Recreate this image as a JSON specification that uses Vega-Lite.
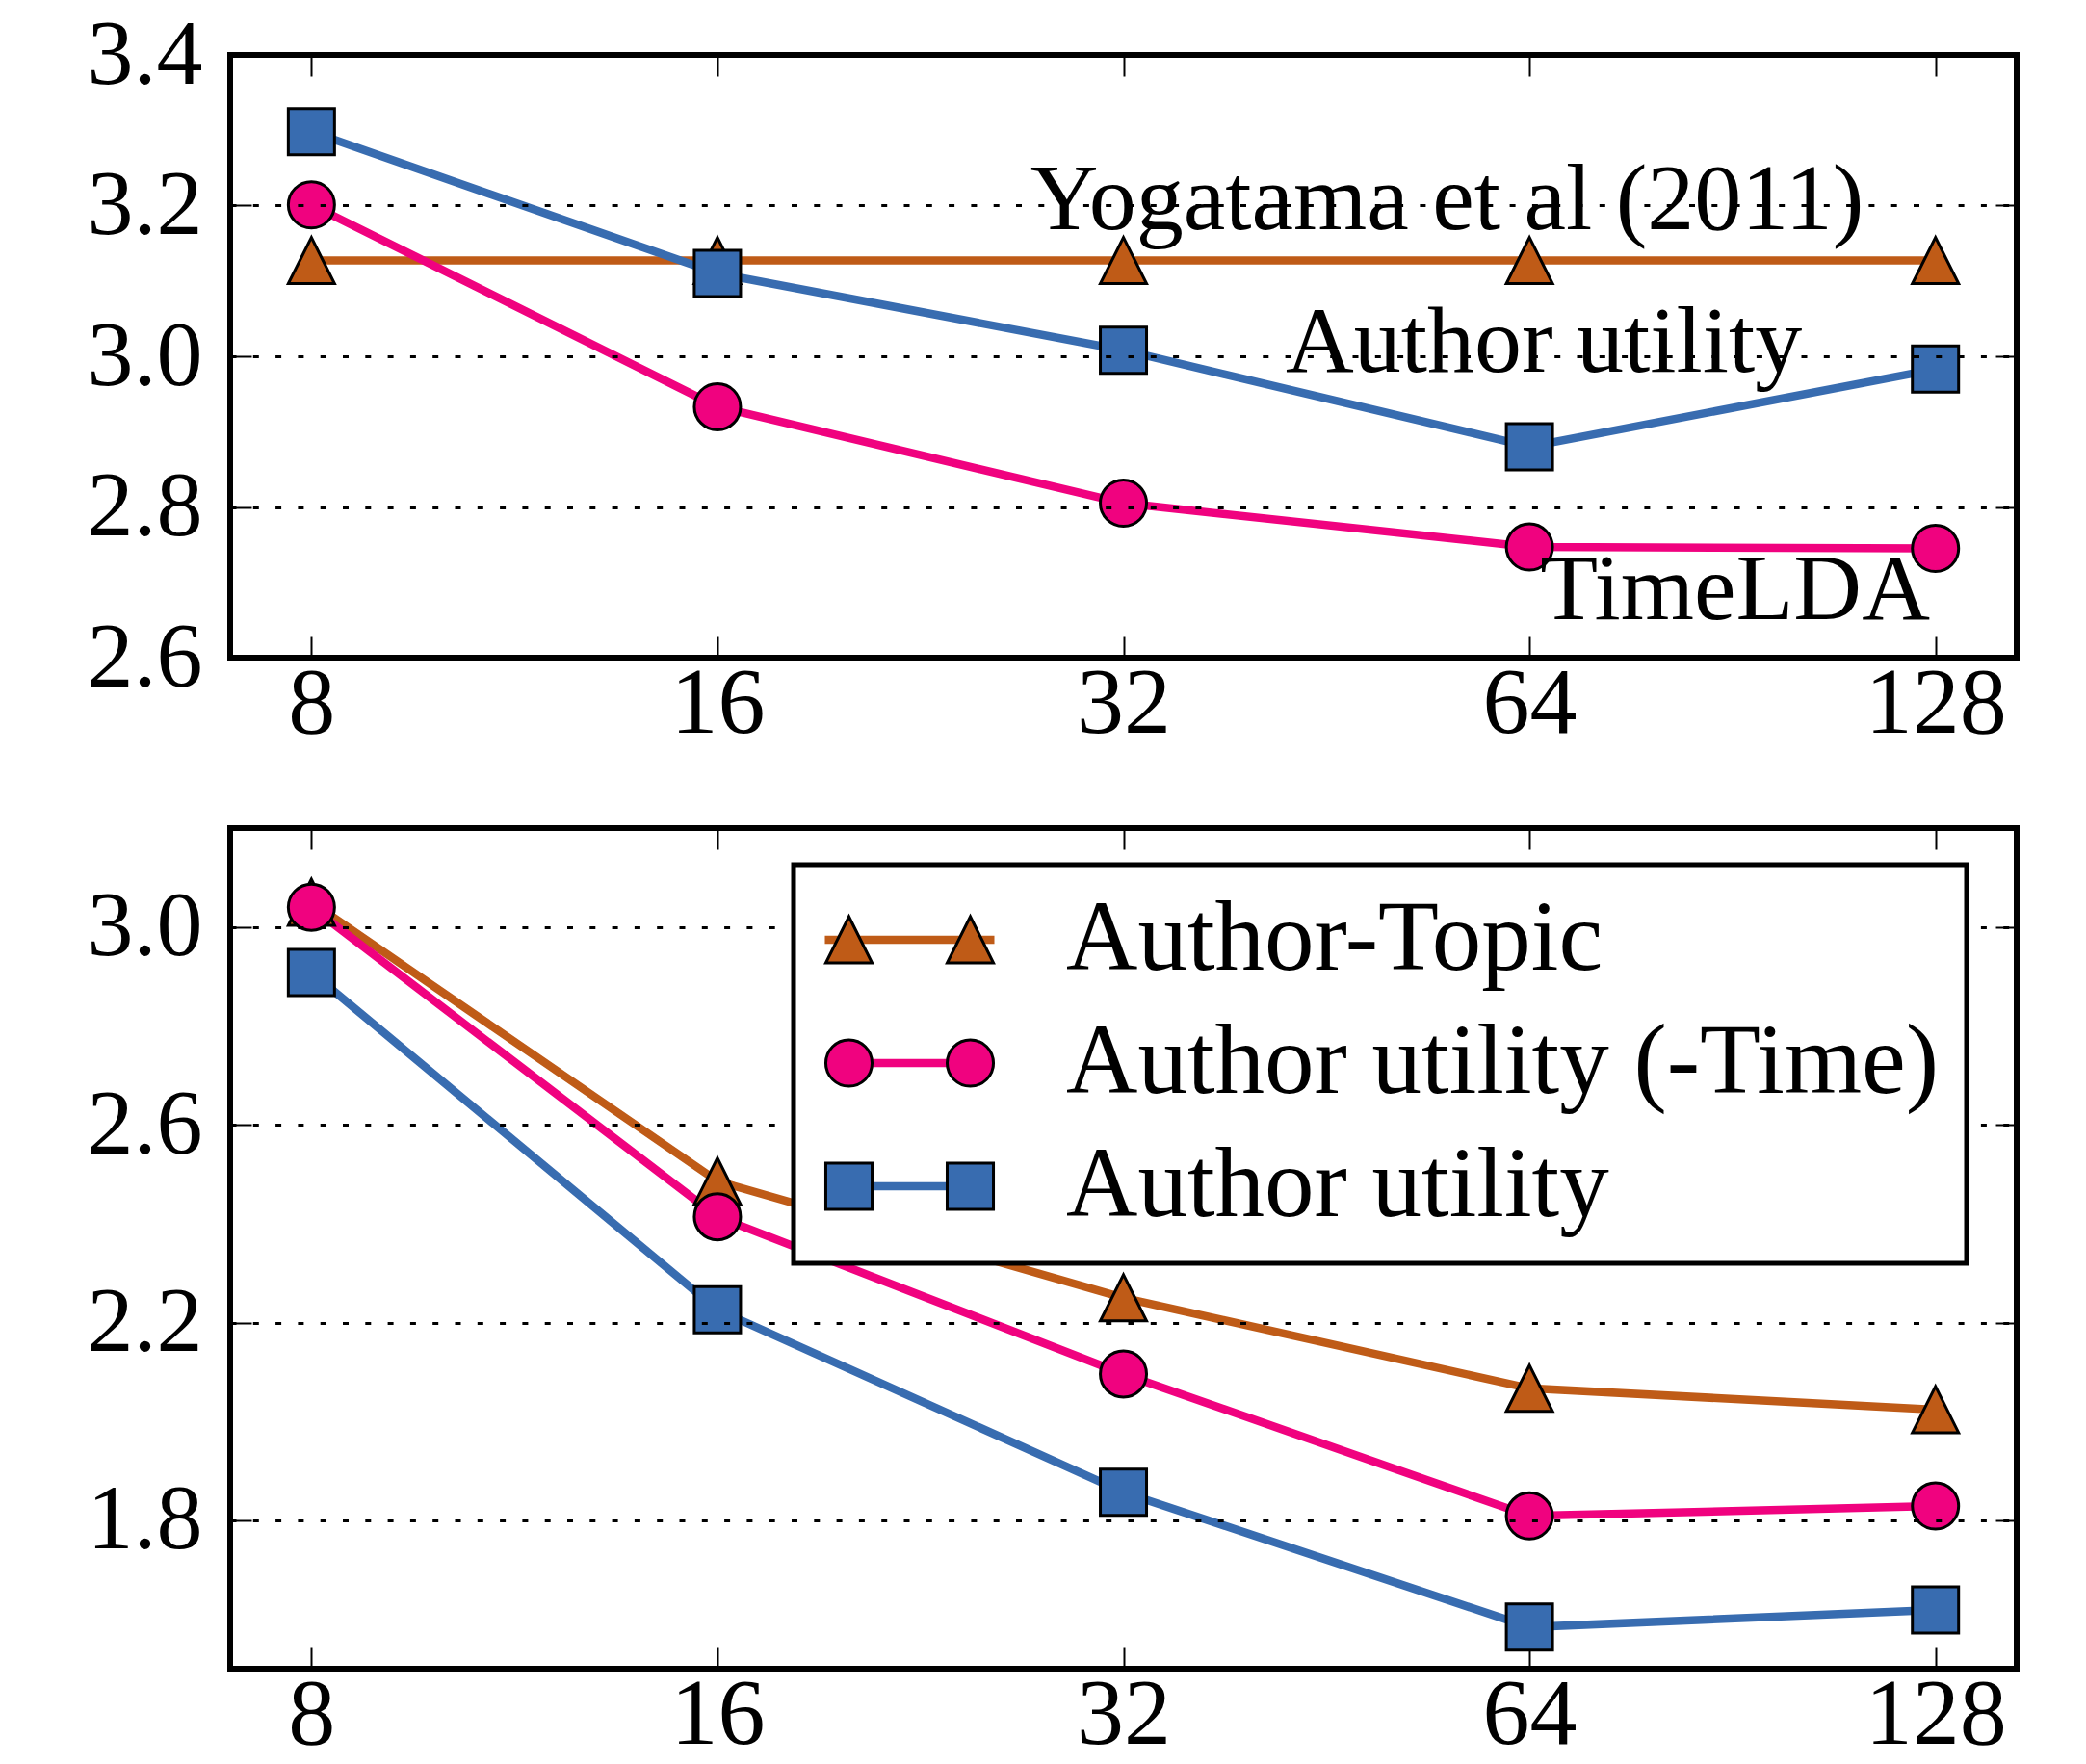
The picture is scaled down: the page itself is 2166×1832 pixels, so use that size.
{
  "$schema": "https://vega.github.io/schema/vega-lite/v6.json",
  "autosize": {"type": "pad"},
  "padding": {"left": 87, "top": 6, "right": 40, "bottom": 2},
  "background": "white",
  "bounds": "flush",
  "spacing": 177,
  "config": {
    "view": {"stroke": "black", "strokeWidth": 6},
    "font": "Liberation Serif",
    "axis": {
      "domain": false,
      "labelFont": "Liberation Serif",
      "labelFontSize": 96,
      "labelColor": "black",
      "tickColor": "black",
      "tickWidth": 2,
      "tickSize": -22,
      "grid": false,
      "labelFlush": false,
      "labelOverlap": false
    }
  },
  "datasets": {
    "top": [
      {"k": 8, "value": 3.127, "series": "Yogatama et al (2011)"},
      {"k": 16, "value": 3.127, "series": "Yogatama et al (2011)"},
      {"k": 32, "value": 3.127, "series": "Yogatama et al (2011)"},
      {"k": 64, "value": 3.127, "series": "Yogatama et al (2011)"},
      {"k": 128, "value": 3.127, "series": "Yogatama et al (2011)"},
      {"k": 8, "value": 3.201, "series": "TimeLDA"},
      {"k": 16, "value": 2.933, "series": "TimeLDA"},
      {"k": 32, "value": 2.805, "series": "TimeLDA"},
      {"k": 64, "value": 2.747, "series": "TimeLDA"},
      {"k": 128, "value": 2.745, "series": "TimeLDA"},
      {"k": 8, "value": 3.298, "series": "Author utility"},
      {"k": 16, "value": 3.110, "series": "Author utility"},
      {"k": 32, "value": 3.008, "series": "Author utility"},
      {"k": 64, "value": 2.880, "series": "Author utility"},
      {"k": 128, "value": 2.983, "series": "Author utility"}
    ],
    "toplabels": [
      {"k": 55.6, "value": 3.169, "label": "Yogatama et al (2011)"},
      {"k": 65.6, "value": 2.980, "label": "Author utility"},
      {"k": 90.9, "value": 2.651, "label": "TimeLDA"}
    ],
    "bottom": [
      {"k": 8, "value": 3.05, "series": "Author-Topic"},
      {"k": 16, "value": 2.486, "series": "Author-Topic"},
      {"k": 32, "value": 2.250, "series": "Author-Topic"},
      {"k": 64, "value": 2.067, "series": "Author-Topic"},
      {"k": 128, "value": 2.024, "series": "Author-Topic"},
      {"k": 8, "value": 3.04, "series": "Author utility (-Time)"},
      {"k": 16, "value": 2.414, "series": "Author utility (-Time)"},
      {"k": 32, "value": 2.096, "series": "Author utility (-Time)"},
      {"k": 64, "value": 1.809, "series": "Author utility (-Time)"},
      {"k": 128, "value": 1.829, "series": "Author utility (-Time)"},
      {"k": 8, "value": 2.908, "series": "Author utility"},
      {"k": 16, "value": 2.226, "series": "Author utility"},
      {"k": 32, "value": 1.857, "series": "Author utility"},
      {"k": 64, "value": 1.584, "series": "Author utility"},
      {"k": 128, "value": 1.619, "series": "Author utility"}
    ]
  },
  "vconcat": [
    {
      "width": 1855,
      "height": 626,
      "resolve": {"axis": {"x": "independent", "y": "independent"}},
      "layer": [
        {
          "data": {"name": "top"},
          "mark": {"type": "line", "strokeWidth": 8.5},
          "encoding": {
            "x": {"field": "k", "type": "quantitative",
              "scale": {"type": "log", "base": 2, "domain": [6.964, 147.03], "nice": false},
              "axis": {"orient": "bottom", "values": [8, 16, 32, 64, 128], "format": "d", "title": null, "labelPadding": 22, "labelFontSize": 98}},
            "y": {"field": "value", "type": "quantitative",
              "scale": {"domain": [2.6, 3.4], "nice": false, "zero": false},
              "axis": {"orient": "left", "values": [2.6, 2.8, 3.0, 3.2, 3.4], "format": ".1f", "title": null, "labelPadding": 51,
                "grid": true, "gridColor": "black", "gridWidth": 3, "gridDash": [6, 17.3], "zindex": 1}},
            "stroke": {"field": "series", "type": "nominal",
              "scale": {"domain": ["Yogatama et al (2011)", "TimeLDA", "Author utility"], "range": ["#bf5b17", "#f0027f", "#386cb0"]},
              "legend": null}
          }
        },
        {
          "data": {"name": "top"},
          "mark": {"type": "point", "filled": true, "size": 2304, "stroke": "black", "strokeWidth": 3, "opacity": 1},
          "encoding": {
            "x": {"field": "k", "type": "quantitative",
              "scale": {"type": "log", "base": 2, "domain": [6.964, 147.03], "nice": false},
              "axis": {"orient": "top", "values": [8, 16, 32, 64, 128], "labels": false, "title": null}},
            "y": {"field": "value", "type": "quantitative",
              "scale": {"domain": [2.6, 3.4], "nice": false, "zero": false},
              "axis": {"orient": "right", "values": [2.6, 2.8, 3.0, 3.2, 3.4], "labels": false, "title": null}},
            "shape": {"field": "series", "type": "nominal",
              "scale": {"domain": ["Yogatama et al (2011)", "TimeLDA", "Author utility"], "range": ["M0,-1L-1,1L1,1Z", "circle", "square"]},
              "legend": null},
            "fill": {"field": "series", "type": "nominal",
              "scale": {"domain": ["Yogatama et al (2011)", "TimeLDA", "Author utility"], "range": ["#bf5b17", "#f0027f", "#386cb0"]},
              "legend": null}
          }
        },
        {
          "data": {"name": "toplabels"},
          "mark": {"type": "text", "font": "Liberation Serif", "fontSize": 98, "align": "center", "baseline": "alphabetic", "color": "black"},
          "encoding": {
            "x": {"field": "k", "type": "quantitative",
              "scale": {"type": "log", "base": 2, "domain": [6.964, 147.03], "nice": false}, "axis": null},
            "y": {"field": "value", "type": "quantitative",
              "scale": {"domain": [2.6, 3.4], "nice": false, "zero": false}, "axis": null},
            "text": {"field": "label", "type": "nominal"}
          }
        }
      ]
    },
    {
      "width": 1855,
      "height": 873,
      "resolve": {"axis": {"x": "independent", "y": "independent"}},
      "layer": [
        {
          "data": {"name": "bottom"},
          "mark": {"type": "line", "strokeWidth": 8.5},
          "encoding": {
            "x": {"field": "k", "type": "quantitative",
              "scale": {"type": "log", "base": 2, "domain": [6.964, 147.03], "nice": false},
              "axis": {"orient": "bottom", "values": [8, 16, 32, 64, 128], "format": "d", "title": null, "labelPadding": 22, "labelFontSize": 98}},
            "y": {"field": "value", "type": "quantitative",
              "scale": {"domain": [1.5, 3.2], "nice": false, "zero": false},
              "axis": {"orient": "left", "values": [1.8, 2.2, 2.6, 3.0], "format": ".1f", "title": null, "labelPadding": 51,
                "grid": true, "gridColor": "black", "gridWidth": 3, "gridDash": [6, 17.3], "zindex": 1}},
            "stroke": {"field": "series", "type": "nominal",
              "scale": {"domain": ["Author-Topic", "Author utility (-Time)", "Author utility"], "range": ["#bf5b17", "#f0027f", "#386cb0"]},
              "legend": {
                "orient": "none", "legendX": 585, "legendY": 38, "direction": "vertical", "title": null,
                "symbolType": "stroke", "symbolSize": 30976, "symbolStrokeWidth": 8.5,
                "labelFont": "Liberation Serif", "labelFontSize": 103, "labelColor": "black", "labelOffset": 70, "labelLimit": 0,
                "clipHeight": 100, "rowPadding": 25, "padding": 28,
                "strokeColor": "black", "fillColor": "white", "cornerRadius": 0, "zindex": 2,
                "encoding": {"legend": {"strokeWidth": {"value": 5}}, "symbols": {"shape": {"value": "stroke"}}}
              }}
          }
        },
        {
          "data": {"name": "bottom"},
          "mark": {"type": "point", "filled": true, "size": 2304, "stroke": "black", "strokeWidth": 3, "opacity": 1},
          "encoding": {
            "x": {"field": "k", "type": "quantitative",
              "scale": {"type": "log", "base": 2, "domain": [6.964, 147.03], "nice": false},
              "axis": {"orient": "top", "values": [8, 16, 32, 64, 128], "labels": false, "title": null}},
            "y": {"field": "value", "type": "quantitative",
              "scale": {"domain": [1.5, 3.2], "nice": false, "zero": false},
              "axis": {"orient": "right", "values": [1.8, 2.2, 2.6, 3.0], "labels": false, "title": null}},
            "shape": {"field": "series", "type": "nominal",
              "scale": {"domain": ["Author utility (-Time)", "Author-Topic", "Author utility"], "range": ["circle", "M0,-1L-1,1L1,1Z", "square"]},
              "legend": null},
            "fill": {"field": "series", "type": "nominal",
              "scale": {"domain": ["Author utility", "Author utility (-Time)", "Author-Topic"], "range": ["#386cb0", "#f0027f", "#bf5b17"]},
              "legend": {
                "values": ["Author-Topic", "Author utility (-Time)", "Author utility"],
                "orient": "none", "legendX": 585, "legendY": 38, "direction": "vertical", "title": null,
                "symbolSize": 30976, "symbolStrokeWidth": 3, "symbolStrokeColor": "black", "symbolOffset": 3, "symbolOpacity": 1,
                "labelFont": "Liberation Serif", "labelFontSize": 103, "labelColor": "transparent", "labelOffset": 70, "labelLimit": 0,
                "clipHeight": 100, "rowPadding": 25, "padding": 28,
                "strokeColor": "transparent", "fillColor": "transparent", "zindex": 3,
                "encoding": {
                  "symbols": {
                    "shape": {
                      "condition": [
                        {"test": "datum.value === 'Author-Topic'", "value": "M-0.716,-0.273L-0.989,0.273L-0.443,0.273ZM0.716,-0.273L0.443,0.273L0.989,0.273Z"},
                        {"test": "datum.value === 'Author utility (-Time)'", "value": "M-0.443,0A0.273,0.273,0,1,1,-0.989,0A0.273,0.273,0,1,1,-0.443,0ZM0.989,0A0.273,0.273,0,1,1,0.443,0A0.273,0.273,0,1,1,0.989,0Z"}
                      ],
                      "value": "M-0.989,-0.273H-0.443V0.273H-0.989ZM0.443,-0.273H0.989V0.273H0.443Z"
                    }
                  }
                }
              }}
          }
        }
      ]
    }
  ],
  "resolve": {
    "scale": {"stroke": "independent", "fill": "independent", "shape": "independent"},
    "legend": {"stroke": "independent", "fill": "independent", "shape": "independent"}
  }
}
